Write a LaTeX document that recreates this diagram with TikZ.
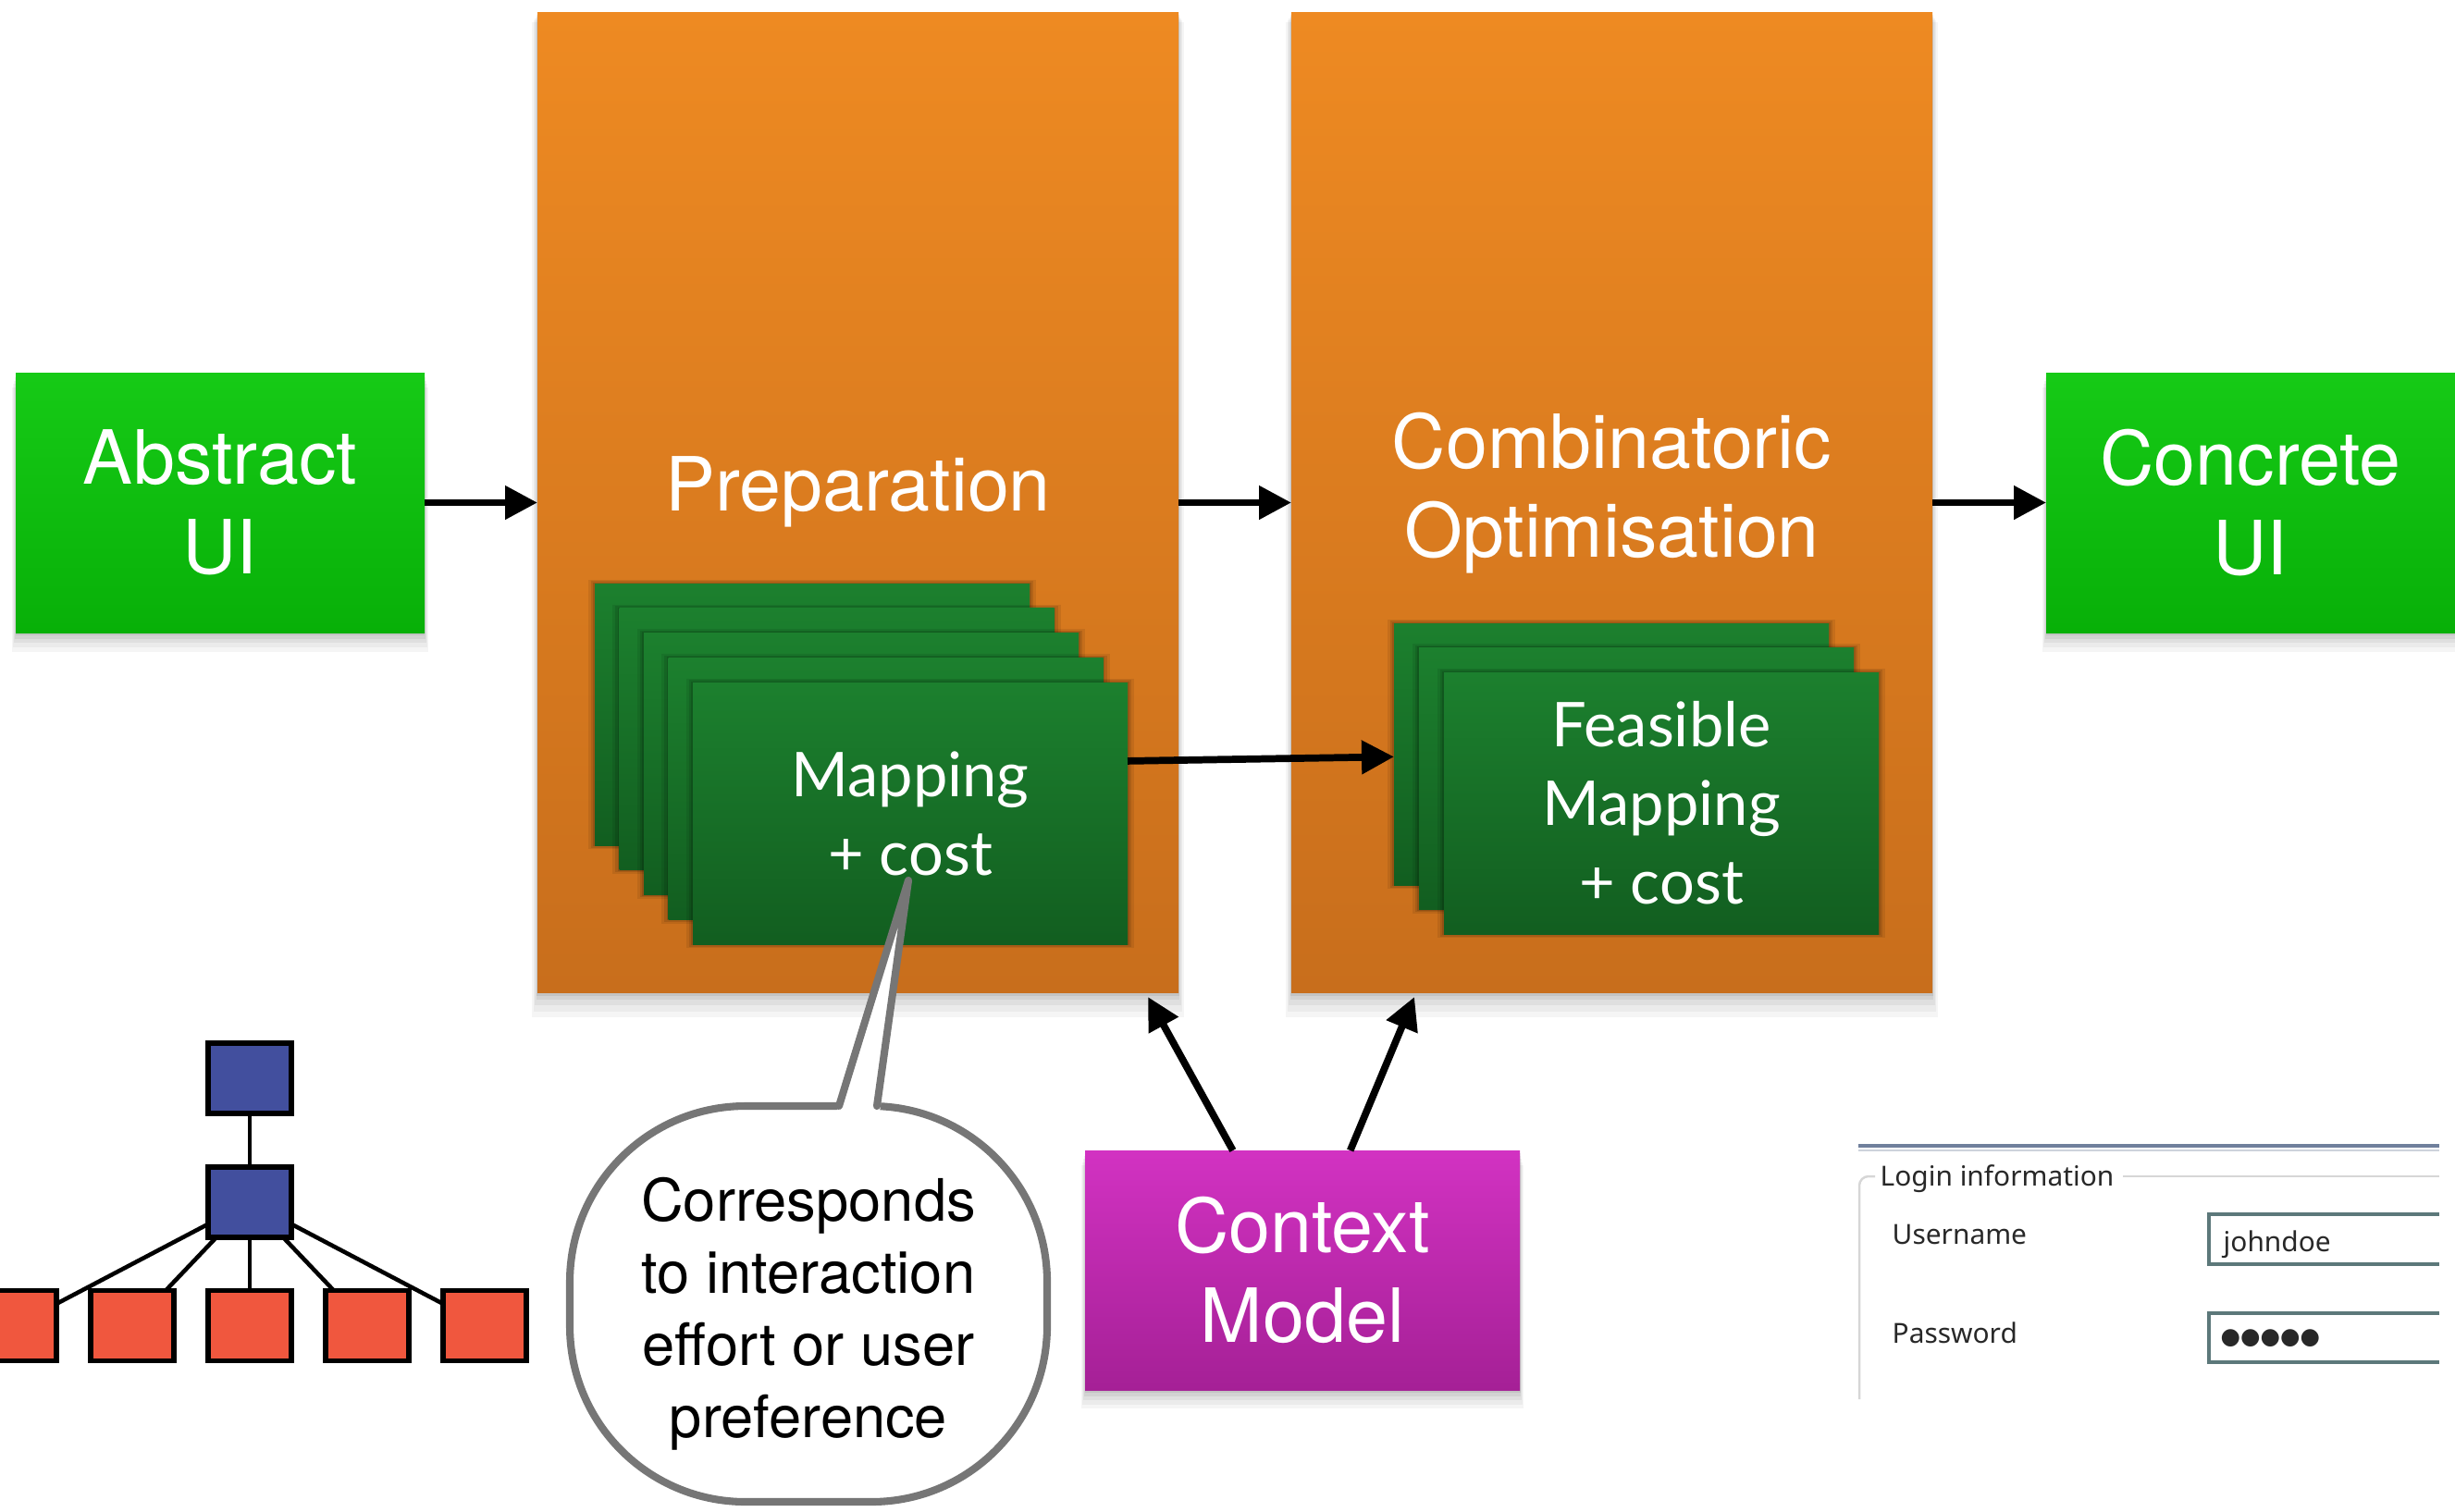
\documentclass[tikz,border=0pt]{standalone}
\usepackage{fontspec}
\setmainfont{TeX Gyre Heros}
\newfontfamily\cardfont{Lato}
\newfontfamily\winfont{Noto Sans}
\newfontfamily\glyphfont{DejaVu Sans}
\usetikzlibrary{positioning,arrows.meta,calc,shadows}
\definecolor{orTop}{RGB}{238,138,34}
\definecolor{orBot}{RGB}{200,110,28}
\definecolor{uiTop}{RGB}{22,202,22}
\definecolor{uiBot}{RGB}{8,176,8}
\definecolor{cardTop}{RGB}{28,128,46}
\definecolor{cardBot}{RGB}{18,94,32}
\definecolor{ctxTop}{RGB}{210,50,194}
\definecolor{ctxBot}{RGB}{165,32,150}
\definecolor{treeBlue}{RGB}{66,79,158}
\definecolor{treeRed}{RGB}{240,87,62}
\definecolor{bubbleGray}{RGB}{118,118,118}
\definecolor{loginBar}{RGB}{112,128,156}
\definecolor{loginFrame}{RGB}{214,214,214}
\definecolor{fieldLine}{RGB}{92,120,122}
\definecolor{loginText}{RGB}{40,40,40}
\newcommand{\stagefont}{\fontsize{23}{27.5}\selectfont}
\newcommand{\cardsize}{\fontsize{19}{24.2}\selectfont}
\newcommand{\notesize}{\fontsize{18}{22.2}\selectfont}
\newcommand{\winsize}{\fontsize{8.5}{10}\selectfont}

\begin{document}
\begin{tikzpicture}[x=1cm,y=-1cm,
    >={Triangle[length=3.5mm,width=3.5mm]},
    flow/.style={->,line width=2.2pt},
    softshadow/.style={
      general shadow={fill=black,opacity=.04,shadow yshift=-1.8mm,shadow scale=1.016},
      general shadow={fill=black,opacity=.04,shadow yshift=-1.4mm,shadow scale=1.012},
      general shadow={fill=black,opacity=.05,shadow yshift=-1mm,shadow scale=1.008},
      general shadow={fill=black,opacity=.06,shadow yshift=-.6mm,shadow scale=1.004},
      general shadow={fill=black,opacity=.07,shadow yshift=-.3mm,shadow scale=1.002}},
    uibox/.style={rectangle,outer sep=0pt,minimum width=4.42cm,minimum height=2.81cm,softshadow,
      top color=uiTop,bottom color=uiBot,text=white,align=center,font=\stagefont},
    stage/.style={rectangle,outer sep=0pt,minimum width=6.93cm,minimum height=10.59cm,softshadow,
      top color=orTop,bottom color=orBot},
    stagetitle/.style={text=white,align=center,font=\stagefont},
    card/.style={rectangle,outer sep=0pt,minimum width=4.70cm,minimum height=2.83cm,
      top color=cardTop,bottom color=cardBot,text=white,align=center,font=\cardfont\cardsize,
      general shadow={fill=black,opacity=.08,shadow scale=1.03},
      general shadow={fill=black,opacity=.1,shadow scale=1.018},
      general shadow={fill=black,opacity=.12,shadow scale=1.008}},
    ctxbox/.style={rectangle,outer sep=0pt,minimum width=4.70cm,minimum height=2.59cm,softshadow,
      top color=ctxTop,bottom color=ctxBot,text=white,align=center,font=\stagefont},
    treebox/.style={rectangle,draw=black,line width=1.6pt,outer sep=0pt,
      minimum width=0.90cm,minimum height=0.76cm},
    treeedge/.style={line width=1.3pt},
    bubble/.style={rectangle,rounded corners=1.9cm,draw=bubbleGray,line width=2.3pt,fill=white,
      outer sep=0pt,minimum width=5.16cm,minimum height=4.28cm},
    bubbleline/.style={draw=bubbleGray,line width=2.3pt,line join=round,line cap=round},
    notetext/.style={align=center,font=\notesize},
    winlabel/.style={font=\winfont\winsize,text=loginText,inner sep=0pt},
    loginframe/.style={draw=loginFrame,line width=.7pt},
    field/.style={draw=fieldLine,line width=.9pt}]
  \useasboundingbox (0,0) rectangle (26.54,16.34);

  % pipeline
  \node[uibox] (abs) at (2.38,5.435) {Abstract\\UI};
  \node[stage,right=12.2mm of abs] (prep) {};
  \node[stage,right=12.2mm of prep] (comb) {};
  \node[uibox,right=12.3mm of comb] (conc) {Concrete\\UI};
  \node[stagetitle] (preptitle) at ([yshift=1.2mm]prep.center) {Preparation};
  \node[stagetitle] (combtitle) at ([yshift=1.05mm]comb.center) {Combinatoric\\Optimisation};

  % stacks of mappings
  \foreach \i in {0,...,3}
    \node[card] (map\i) at ({8.78+0.265*\i},{7.725+0.2675*\i}) {};
  \node[card] (map4) at (9.84,8.795) {Mapping\\+ cost};
  \foreach \i in {0,1}
    \node[card] (feas\i) at ({17.42+0.27*\i},{8.155+0.265*\i}) {};
  \node[card] (feas2) at (17.96,8.685) {Feasible\\Mapping\\+ cost};

  \node[ctxbox] (ctx) at (14.08,13.735) {Context\\Model};

  \draw[flow] (abs) -- (prep);
  \draw[flow] (prep) -- (comb);
  \draw[flow] (comb) -- (conc);
  \draw[flow] ($(map4.north east)!0.3!(map4.south east)$) -- ($(feas0.north west)!0.51!(feas0.south west)$);
  \draw[flow] ($(ctx.north west)!0.34!(ctx.north east)$) -- ($(prep.south east)+(-0.33,0.05)$);
  \draw[flow] ($(ctx.north west)!0.61!(ctx.north east)$) -- ($(comb.south west)+(1.33,0.05)$);

  % abstract tree
  \node[treebox,fill=treeBlue] (root) at (2.70,11.66) {};
  \node[treebox,fill=treeBlue] (hub) at (2.70,13.00) {};
  \foreach \k/\x in {1/0.16,2/1.43,3/2.70,4/3.97,5/5.24}
    \node[treebox,fill=treeRed] (leaf\k) at (\x,14.335) {};
  \draw[treeedge] (root) -- (hub);
  \foreach \k in {1,...,5}
    \draw[treeedge] (hub) -- (leaf\k);

  % speech bubble
  \node[bubble] (note) at (8.74,14.10) {};
  \node[notetext] (notetext) at ([yshift=-1.1mm]note.center) {Corresponds\\to interaction\\effort or user\\preference};
  \coordinate (tip) at (9.82,9.52);
  \fill[white] ([xshift=3.0mm,yshift=-.7mm]note.north) -- (tip) -- ([xshift=7.7mm,yshift=-.7mm]note.north) -- cycle;
  \draw[bubbleline] ([xshift=3.3mm]note.north) -- (tip) -- ([xshift=7.4mm]note.north);

  % concrete login form
  \draw[draw=loginBar,line width=1.2pt] (20.09,12.39) -- (26.37,12.39);
  \draw[draw=loginBar!35,line width=.6pt] (20.09,12.44) -- (26.37,12.44);
  \draw[loginframe,rounded corners=1mm] (20.27,12.72) -- (20.10,12.72) -- (20.10,15.13);
  \draw[loginframe] (22.95,12.72) -- (26.37,12.72);
  \node[winlabel,anchor=base west] (logintitle) at (20.32,12.82) {Login information};
  \node[winlabel,anchor=base west] (userlabel) at (20.45,13.45) {Username};
  \node[winlabel,anchor=base west] (passlabel) at (20.45,14.52) {Password};
  \draw[field] (26.37,13.13) -- (23.88,13.13) -- (23.88,13.67) -- (26.37,13.67);
  \draw[field] (26.37,14.20) -- (23.88,14.20) -- (23.88,14.73) -- (26.37,14.73);
  \node[winlabel,anchor=base west] (uservalue) at (24.03,13.53) {johndoe};
  \node[winlabel,anchor=west,font=\glyphfont\fontsize{7}{7}\selectfont] (passvalue) at (24.00,14.47) {●●●●●};
\end{tikzpicture}
\end{document}
